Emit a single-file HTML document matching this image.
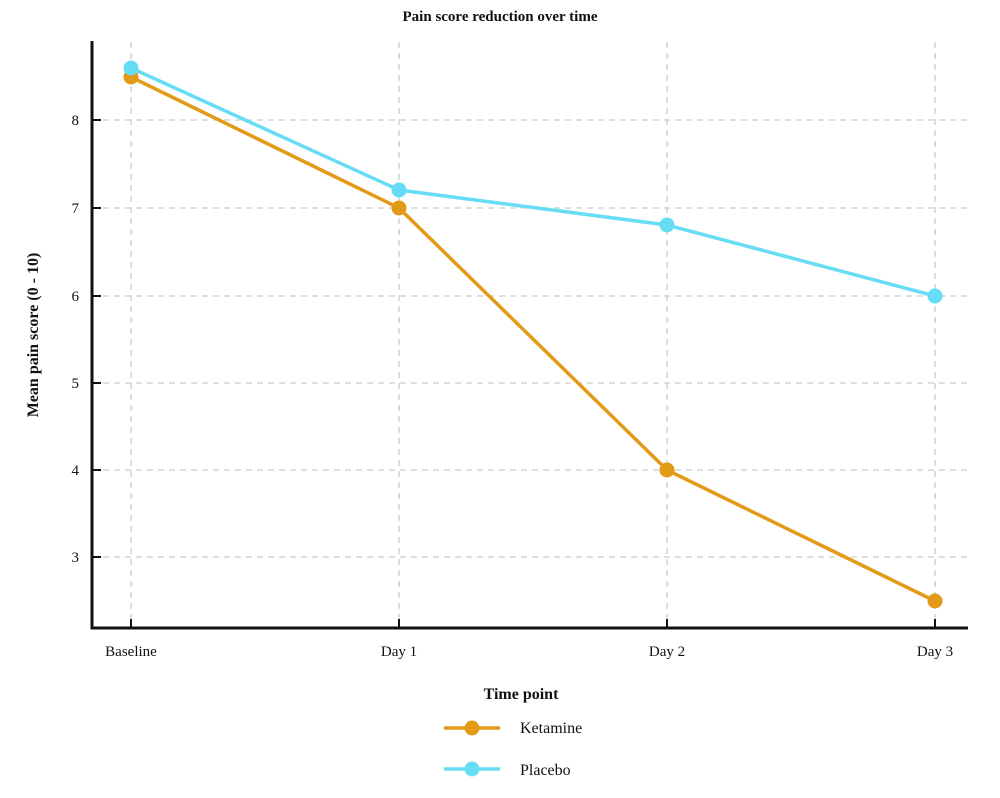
<!DOCTYPE html>
<html><head><style>body{margin:0;background:#fff}svg{display:block}text{font-family:"Liberation Serif",serif;fill:#111}</style></head>
<body>
<svg width="1000" height="798" viewBox="0 0 1000 798">
<g stroke="#c3cfcb" stroke-width="1.3" stroke-dasharray="6,5">
<line x1="131" y1="42" x2="131" y2="628"/><line x1="399" y1="42" x2="399" y2="628"/><line x1="667" y1="42" x2="667" y2="628"/><line x1="935" y1="42" x2="935" y2="628"/>
<line x1="92" y1="120" x2="968" y2="120"/><line x1="92" y1="208" x2="968" y2="208"/><line x1="92" y1="296" x2="968" y2="296"/><line x1="92" y1="383" x2="968" y2="383"/><line x1="92" y1="470" x2="968" y2="470"/><line x1="92" y1="557" x2="968" y2="557"/>
</g>
<g stroke="#111" stroke-width="3" fill="none">
<path d="M92 41 V628 H968"/>
</g>
<g stroke="#111" stroke-width="2">
<line x1="92" y1="120" x2="101" y2="120"/><line x1="92" y1="208" x2="101" y2="208"/><line x1="92" y1="296" x2="101" y2="296"/><line x1="92" y1="383" x2="101" y2="383"/><line x1="92" y1="470" x2="101" y2="470"/><line x1="92" y1="557" x2="101" y2="557"/>
<line x1="131" y1="628" x2="131" y2="619"/><line x1="399" y1="628" x2="399" y2="619"/><line x1="667" y1="628" x2="667" y2="619"/><line x1="935" y1="628" x2="935" y2="619"/>
</g>
<g font-size="15" text-anchor="end">
<text x="79" y="125">8</text><text x="79" y="213">7</text><text x="79" y="301">6</text><text x="79" y="388">5</text><text x="79" y="475">4</text><text x="79" y="562">3</text>
</g>
<g font-size="15" text-anchor="middle">
<text x="131" y="656">Baseline</text><text x="399" y="656">Day 1</text><text x="667" y="656">Day 2</text><text x="935" y="656">Day 3</text>
</g>
<text x="500" y="21" font-size="15" font-weight="bold" text-anchor="middle">Pain score reduction over time</text>
<text x="521" y="699" font-size="16" font-weight="bold" text-anchor="middle">Time point</text>
<text transform="translate(38,335) rotate(-90)" font-size="16" font-weight="bold" text-anchor="middle">Mean pain score (0 - 10)</text>
<polyline points="131,77 399,208 667,470 935,601" fill="none" stroke="#e39a17" stroke-width="3.5"/>
<g fill="#e39a17"><circle cx="131" cy="77" r="7.5"/><circle cx="399" cy="208" r="7.5"/><circle cx="667" cy="470" r="7.5"/><circle cx="935" cy="601" r="7.5"/></g>
<polyline points="131,68 399,190 667,225 935,296" fill="none" stroke="#66dcf5" stroke-width="3.5"/>
<g fill="#66dcf5"><circle cx="131" cy="68" r="7.5"/><circle cx="399" cy="190" r="7.5"/><circle cx="667" cy="225" r="7.5"/><circle cx="935" cy="296" r="7.5"/></g>
<line x1="444" y1="728" x2="500" y2="728" stroke="#e39a17" stroke-width="3.5"/><circle cx="472" cy="728" r="7.5" fill="#e39a17"/>
<text x="520" y="733" font-size="16">Ketamine</text>
<line x1="444" y1="769" x2="500" y2="769" stroke="#66dcf5" stroke-width="3.5"/><circle cx="472" cy="769" r="7.5" fill="#66dcf5"/>
<text x="520" y="775" font-size="16">Placebo</text>
</svg>
</body></html>
